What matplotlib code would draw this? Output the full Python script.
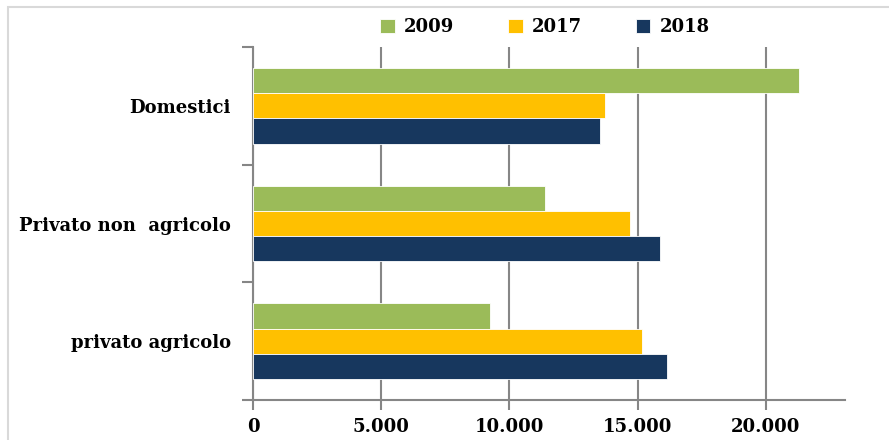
import matplotlib
matplotlib.use("Agg")
import matplotlib.pyplot as plt
from matplotlib.patches import Rectangle
import numpy as np

categories = ["Domestici", "Privato non  agricolo", "privato agricolo"]
series_labels = ["2009", "2017", "2018"]
values_2009 = [21300, 11400, 9250]
values_2017 = [13720, 14680, 15180]
values_2018 = [13540, 15880, 16150]
x_ticks = [0, 5000, 10000, 15000, 20000]
x_tick_labels = ["0", "5.000", "10.000", "15.000", "20.000"]

colors = ["#9BBB59", "#FFC000", "#17375E"]
font = "DejaVu Serif"

fig = plt.figure(figsize=(8.89, 4.40), dpi=100)
fig.patch.set_facecolor("white")
fig.patches.append(Rectangle((8/889, -0.1), 1.2, 1 - 7/440 + 0.1, transform=fig.transFigure,
                             fill=False, edgecolor="#D9D9D9", lw=1.5, zorder=0))

ax = fig.add_axes([253/889, 1 - 400/440, (845-253)/889, (400-47)/440])
y = np.arange(len(categories))
h = 0.215
for i, vals in enumerate([values_2009, values_2017, values_2018]):
    ax.barh(y + (i - 1) * h, vals, height=h, color=colors[i], label=series_labels[i],
            edgecolor="white", linewidth=0.6, zorder=3)

ax.set_xlim(0, 23080)
ax.set_ylim(2.5, -0.5)
ax.set_xticks(x_ticks)
ax.set_xticklabels(x_tick_labels, fontfamily=font, fontweight="bold", fontsize=13)
ax.set_yticks(y)
ax.set_yticklabels(categories, fontfamily=font, fontweight="bold", fontsize=13)
ax.set_yticks([-0.5, 0.5, 1.5, 2.5], minor=True)
ax.tick_params(axis="y", which="major", length=0, pad=16)
ax.tick_params(axis="y", which="minor", length=8, width=1.5, color="#868686", direction="out")
ax.tick_params(axis="x", which="major", length=7, width=1.5, color="#868686", direction="out", pad=6)
ax.xaxis.grid(True, color="#868686", linewidth=1.5, zorder=0)
ax.set_axisbelow(True)
for s in ["top", "right"]:
    ax.spines[s].set_visible(False)
for s in ["left", "bottom"]:
    ax.spines[s].set_color("#868686")
    ax.spines[s].set_linewidth(1.5)

leg = fig.legend(loc="center", bbox_to_anchor=(545/889, 1 - 27/440), ncol=3, frameon=False,
                 prop={"family": font, "weight": "bold", "size": 13},
                 handlelength=0.8, handleheight=0.8, handletextpad=0.5, columnspacing=3.0)

fig.savefig("out.png", dpi=100)
